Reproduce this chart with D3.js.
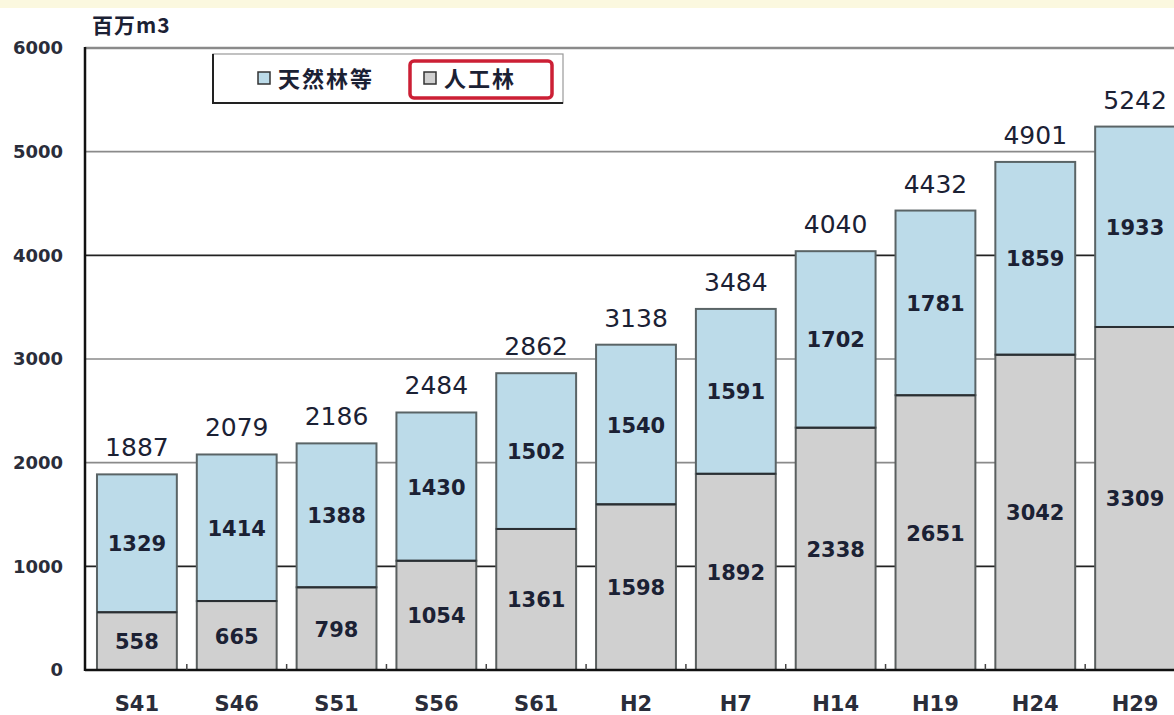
<!DOCTYPE html>
<html>
<head>
<meta charset="utf-8">
<script src="https://cdn.jsdelivr.net/npm/d3@7"></script>
<style>
  html, body { margin: 0; padding: 0; background: #ffffff; }
  svg { display: block; font-family: "DejaVu Sans", "Liberation Sans", Arial, sans-serif; }
</style>
</head>
<body>
<svg id="chart" width="1174" height="715"></svg>
<script>
// data
const years = ['S41', 'S46', 'S51', 'S56', 'S61', 'H2', 'H7', 'H14', 'H19', 'H24', 'H29'];
const planted = [558, 665, 798, 1054, 1361, 1598, 1892, 2338, 2651, 3042, 3309];   // 人工林
const natural = [1329, 1414, 1388, 1430, 1502, 1540, 1591, 1702, 1781, 1859, 1933]; // 天然林等
const totals = [1887, 2079, 2186, 2484, 2862, 3138, 3484, 4040, 4432, 4901, 5242];
const yTicks = [0, 1000, 2000, 3000, 4000, 5000, 6000];
const unitLabel = '百万m3';
const seriesNames = ['天然林等', '人工林'];

const textColor = '#1b2134';
const blueFill = '#bcdbe9';
const grayFill = '#d0d0d0';
const numFont = '"DejaVu Sans", sans-serif';

const svg = d3.select('#chart');

// faint yellow band at the top of the scan
svg.append('rect').attr('x', 0).attr('y', 0).attr('width', 1174).attr('height', 8).attr('fill', '#fbf8df');

const plotLeft = 85, plotTop = 48, plotBottom = 670, plotRight = 1185;

const x = d3.scaleBand().domain(years).range([plotLeft + 2, plotRight]).paddingInner(0.2).paddingOuter(0.1);
const y = d3.scaleLinear().domain([0, 6000]).range([plotBottom, plotTop]);

// gridlines
svg.append('g')
    .selectAll('line')
    .data(yTicks.filter((d) => d > 0))
    .join('line')
    .attr('x1', plotLeft)
    .attr('x2', 1174)
    .attr('y1', (d) => y(d))
    .attr('y2', (d) => y(d))
    .attr('stroke', (d) => (d === 4000 || d === 1000 ? '#222' : '#8a8a8a'))
    .attr('stroke-width', (d) => (d === 6000 ? 2.5 : 1.6));

// y axis labels
svg.append('g')
    .attr('transform', `translate(${plotLeft},0)`)
    .call(d3.axisLeft(y).tickValues(yTicks).tickFormat(d3.format('d')).tickSize(0).tickPadding(22))
    .call((g) => g.select('.domain').remove())
    .selectAll('text')
    .attr('font-family', numFont)
    .attr('font-size', 18)
    .attr('font-weight', 'bold')
    .attr('fill', '#2a2d3a');

svg.append('text')
    .attr('x', 92)
    .attr('y', 33)
    .attr('font-family', '"Noto Sans CJK JP", sans-serif')
    .attr('font-size', 21)
    .attr('font-weight', 'bold')
    .attr('letter-spacing', 1)
    .attr('fill', textColor)
    .text(unitLabel);

// stacked bars
const bars = svg.append('g');
years.forEach((yr, i) => {
    const bx = x(yr), bw = x.bandwidth();
    bars.append('rect')
        .attr('x', bx).attr('y', y(planted[i]))
        .attr('width', bw).attr('height', y(0) - y(planted[i]))
        .attr('fill', grayFill).attr('stroke', '#5a5f5f').attr('stroke-width', 2);
    bars.append('rect')
        .attr('x', bx).attr('y', y(planted[i] + natural[i]))
        .attr('width', bw).attr('height', y(planted[i]) - y(planted[i] + natural[i]))
        .attr('fill', blueFill).attr('stroke', '#5a6466').attr('stroke-width', 2);
    bars.append('line')
        .attr('x1', bx).attr('x2', bx + bw)
        .attr('y1', y(planted[i])).attr('y2', y(planted[i]))
        .attr('stroke', '#2a2f33').attr('stroke-width', 2);

    const cx = bx + bw / 2;
    bars.append('text')
        .attr('x', cx).attr('y', (y(0) + y(planted[i])) / 2 + 8)
        .attr('text-anchor', 'middle').attr('font-size', 21).attr('font-weight', 'bold')
        .attr('fill', textColor).text(planted[i]);
    bars.append('text')
        .attr('x', cx).attr('y', (y(planted[i]) + y(planted[i] + natural[i])) / 2 + 8)
        .attr('text-anchor', 'middle').attr('font-size', 21).attr('font-weight', 'bold')
        .attr('fill', textColor).text(natural[i]);
    bars.append('text')
        .attr('x', cx).attr('y', y(totals[i]) - 18)
        .attr('text-anchor', 'middle').attr('font-size', 25)
        .attr('fill', textColor).text(totals[i]);
});

// axes lines
svg.append('line').attr('x1', plotLeft).attr('x2', plotLeft).attr('y1', plotTop - 1).attr('y2', plotBottom + 1)
    .attr('stroke', '#111').attr('stroke-width', 2.5);
const xAxis = svg.append('g').attr('transform', `translate(0,${plotBottom})`)
    .call(d3.axisBottom(x).tickSize(0).tickPadding(26));
xAxis.select('.domain').remove();
xAxis.selectAll('text')
    .attr('font-family', numFont)
    .attr('font-size', 21)
    .attr('font-weight', 'bold')
    .attr('fill', '#2a2d3a');
svg.append('line').attr('x1', plotLeft).attr('x2', 1174).attr('y1', plotBottom).attr('y2', plotBottom)
    .attr('stroke', '#111').attr('stroke-width', 2.5);
// small ticks between categories
svg.append('g')
    .selectAll('line')
    .data(years.slice(1))
    .join('line')
    .attr('x1', (d) => x(d) - x.step() * x.paddingInner() / 2)
    .attr('x2', (d) => x(d) - x.step() * x.paddingInner() / 2)
    .attr('y1', plotBottom)
    .attr('y2', plotBottom - 6)
    .attr('stroke', '#444')
    .attr('stroke-width', 1.5);

// legend
const legend = svg.append('g');
legend.append('rect').attr('x', 213).attr('y', 54).attr('width', 350).attr('height', 49)
    .attr('fill', '#fff').attr('stroke', '#999').attr('stroke-width', 1.2);
legend.append('path').attr('d', 'M213,54 V103 H563').attr('fill', 'none')
    .attr('stroke', '#222').attr('stroke-width', 2);
legend.append('rect').attr('x', 410).attr('y', 61).attr('width', 142).attr('height', 37).attr('rx', 4)
    .attr('fill', 'none').attr('stroke', '#cc1f35').attr('stroke-width', 3.5);
const items = [
    { name: seriesNames[0], fill: blueFill, sx: 258 },
    { name: seriesNames[1], fill: grayFill, sx: 424 },
];
items.forEach((it) => {
    legend.append('rect').attr('x', it.sx).attr('y', 72).attr('width', 12).attr('height', 12)
        .attr('fill', it.fill).attr('stroke', '#333').attr('stroke-width', 1.5);
    legend.append('text').attr('x', it.sx + 20).attr('y', 87)
        .attr('font-family', '"Noto Sans CJK JP", sans-serif')
        .attr('font-size', 22).attr('font-weight', 'bold').attr('letter-spacing', 2)
        .attr('fill', textColor).text(it.name);
});
</script>
</body>
</html>
